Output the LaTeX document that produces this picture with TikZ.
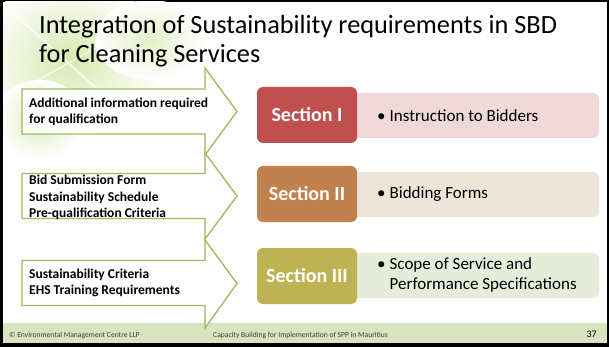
\documentclass[tikz,border=0pt]{standalone}
\usepackage{fontspec}
\setmainfont{Carlito}
\definecolor{arrowgreen}{HTML}{9BBB59}
\definecolor{footgreen}{HTML}{D7E4BD}
\definecolor{secone}{HTML}{C0504D}
\definecolor{sectwo}{HTML}{C0814F}
\definecolor{secthree}{HTML}{BEB352}
\definecolor{lightone}{HTML}{EED8D8}
\definecolor{lighttwo}{HTML}{EEE5DA}
\definecolor{lightthree}{HTML}{E5ECDA}
\definecolor{leaf}{HTML}{D9E8B0}
\begin{document}
\begin{tikzpicture}[x=1pt,y=-1pt,
  arrowshape/.style={draw=arrowgreen, line width=1.3pt, fill=white, line join=miter},
  arrowtext/.style={anchor=west, inner sep=0pt, align=left, font=\bfseries\fontsize{13.5}{16.5}\selectfont},
  secbox/.style={rounded corners=6pt, minimum width=100pt, minimum height=56pt, inner sep=0pt, text=white, font=\bfseries\fontsize{20}{24}\selectfont},
  lightbox/.style={rounded corners=6pt},
  bullettext/.style={anchor=west, inner sep=0pt, font=\fontsize{17}{20}\selectfont},
  foottext/.style={anchor=base west, inner sep=0pt, text=black!75, font=\fontsize{7.6}{9}\selectfont}
]
\useasboundingbox (0,0) rectangle (609,347);
% frame and background
\fill[black] (0,0) rectangle (609,347);
\fill[white] (3,2) rectangle (607,343);
% faint leaf background
\begin{scope}
\clip (3,2) rectangle (607,343);
\shade[inner color=leaf, outer color=white] (70,60) ellipse (95pt and 80pt);
\shade[inner color=leaf!70, outer color=white] (150,40) ellipse (55pt and 40pt);
\shade[inner color=leaf!80, outer color=white] (40,120) ellipse (45pt and 40pt);
\draw[white, line width=2pt, opacity=0.7] (10,10) -- (120,110);
\draw[white, line width=1.5pt, opacity=0.6] (20,90) -- (110,40);
\end{scope}
\fill[footgreen] (3,323) rectangle (607,343);
% title
\node[anchor=base west, inner sep=0pt, align=left, font=\fontsize{26.3}{29}\selectfont] (title) at (39,63)
  {Integration of Sustainability requirements in SBD\\for Cleaning Services};
% arrows
\draw[arrowshape] (22,89) -- (205,89) -- (205,68) -- (237,111.5) -- (205,155) -- (205,134) -- (22,134) -- cycle;
\draw[arrowshape] (22,173.5) -- (205,173.5) -- (205,153) -- (237,196) -- (205,239) -- (205,218.5) -- (22,218.5) -- cycle;
\draw[arrowshape] (22,260.5) -- (205,260.5) -- (205,240) -- (237,283.5) -- (205,328) -- (205,305.5) -- (22,305.5) -- cycle;
\node[arrowtext] (a1) at (29,112) {Additional information required\\for qualification};
\node[arrowtext] (a2) at (29,197.5) {Bid Submission Form\\Sustainability Schedule\\Pre-qualification Criteria};
\node[arrowtext] (a3) at (29,283) {Sustainability Criteria\\EHS Training Requirements};
% section rows
\fill[lightbox, fill=lightone] (340,93) rectangle (599,138);
\fill[lightbox, fill=lighttwo] (340,172) rectangle (599,217);
\fill[lightbox, fill=lightthree] (340,253) rectangle (599,298);
\node[secbox, fill=secone] (s1) at (307,115) {Section I};
\node[secbox, fill=sectwo] (s2) at (307,194) {Section II};
\node[secbox, fill=secthree] (s3) at (307,276) {Section III};
\node[bullettext] (b1) at (377,115.5) {\textbullet\hspace{4pt}Instruction to Bidders};
\node[bullettext] (b2) at (377,194.5) {\textbullet\hspace{4pt}Bidding Forms};
\node[bullettext] (b3) at (377,275.5) {\begin{tabular}{@{}l@{\hspace{4pt}}l@{}}\textbullet & Scope of Service and\\ & Performance Specifications\end{tabular}};
% footer
\node[foottext] (f1) at (9,337) {© Environmental Management Centre LLP};
\node[foottext] (f2) at (213,337) {Capacity Building for Implementation of SPP in Mauritius};
\node[anchor=base east, inner sep=0pt, font=\fontsize{10}{12}\selectfont] (f3) at (597,337) {37};
\end{tikzpicture}
\end{document}
